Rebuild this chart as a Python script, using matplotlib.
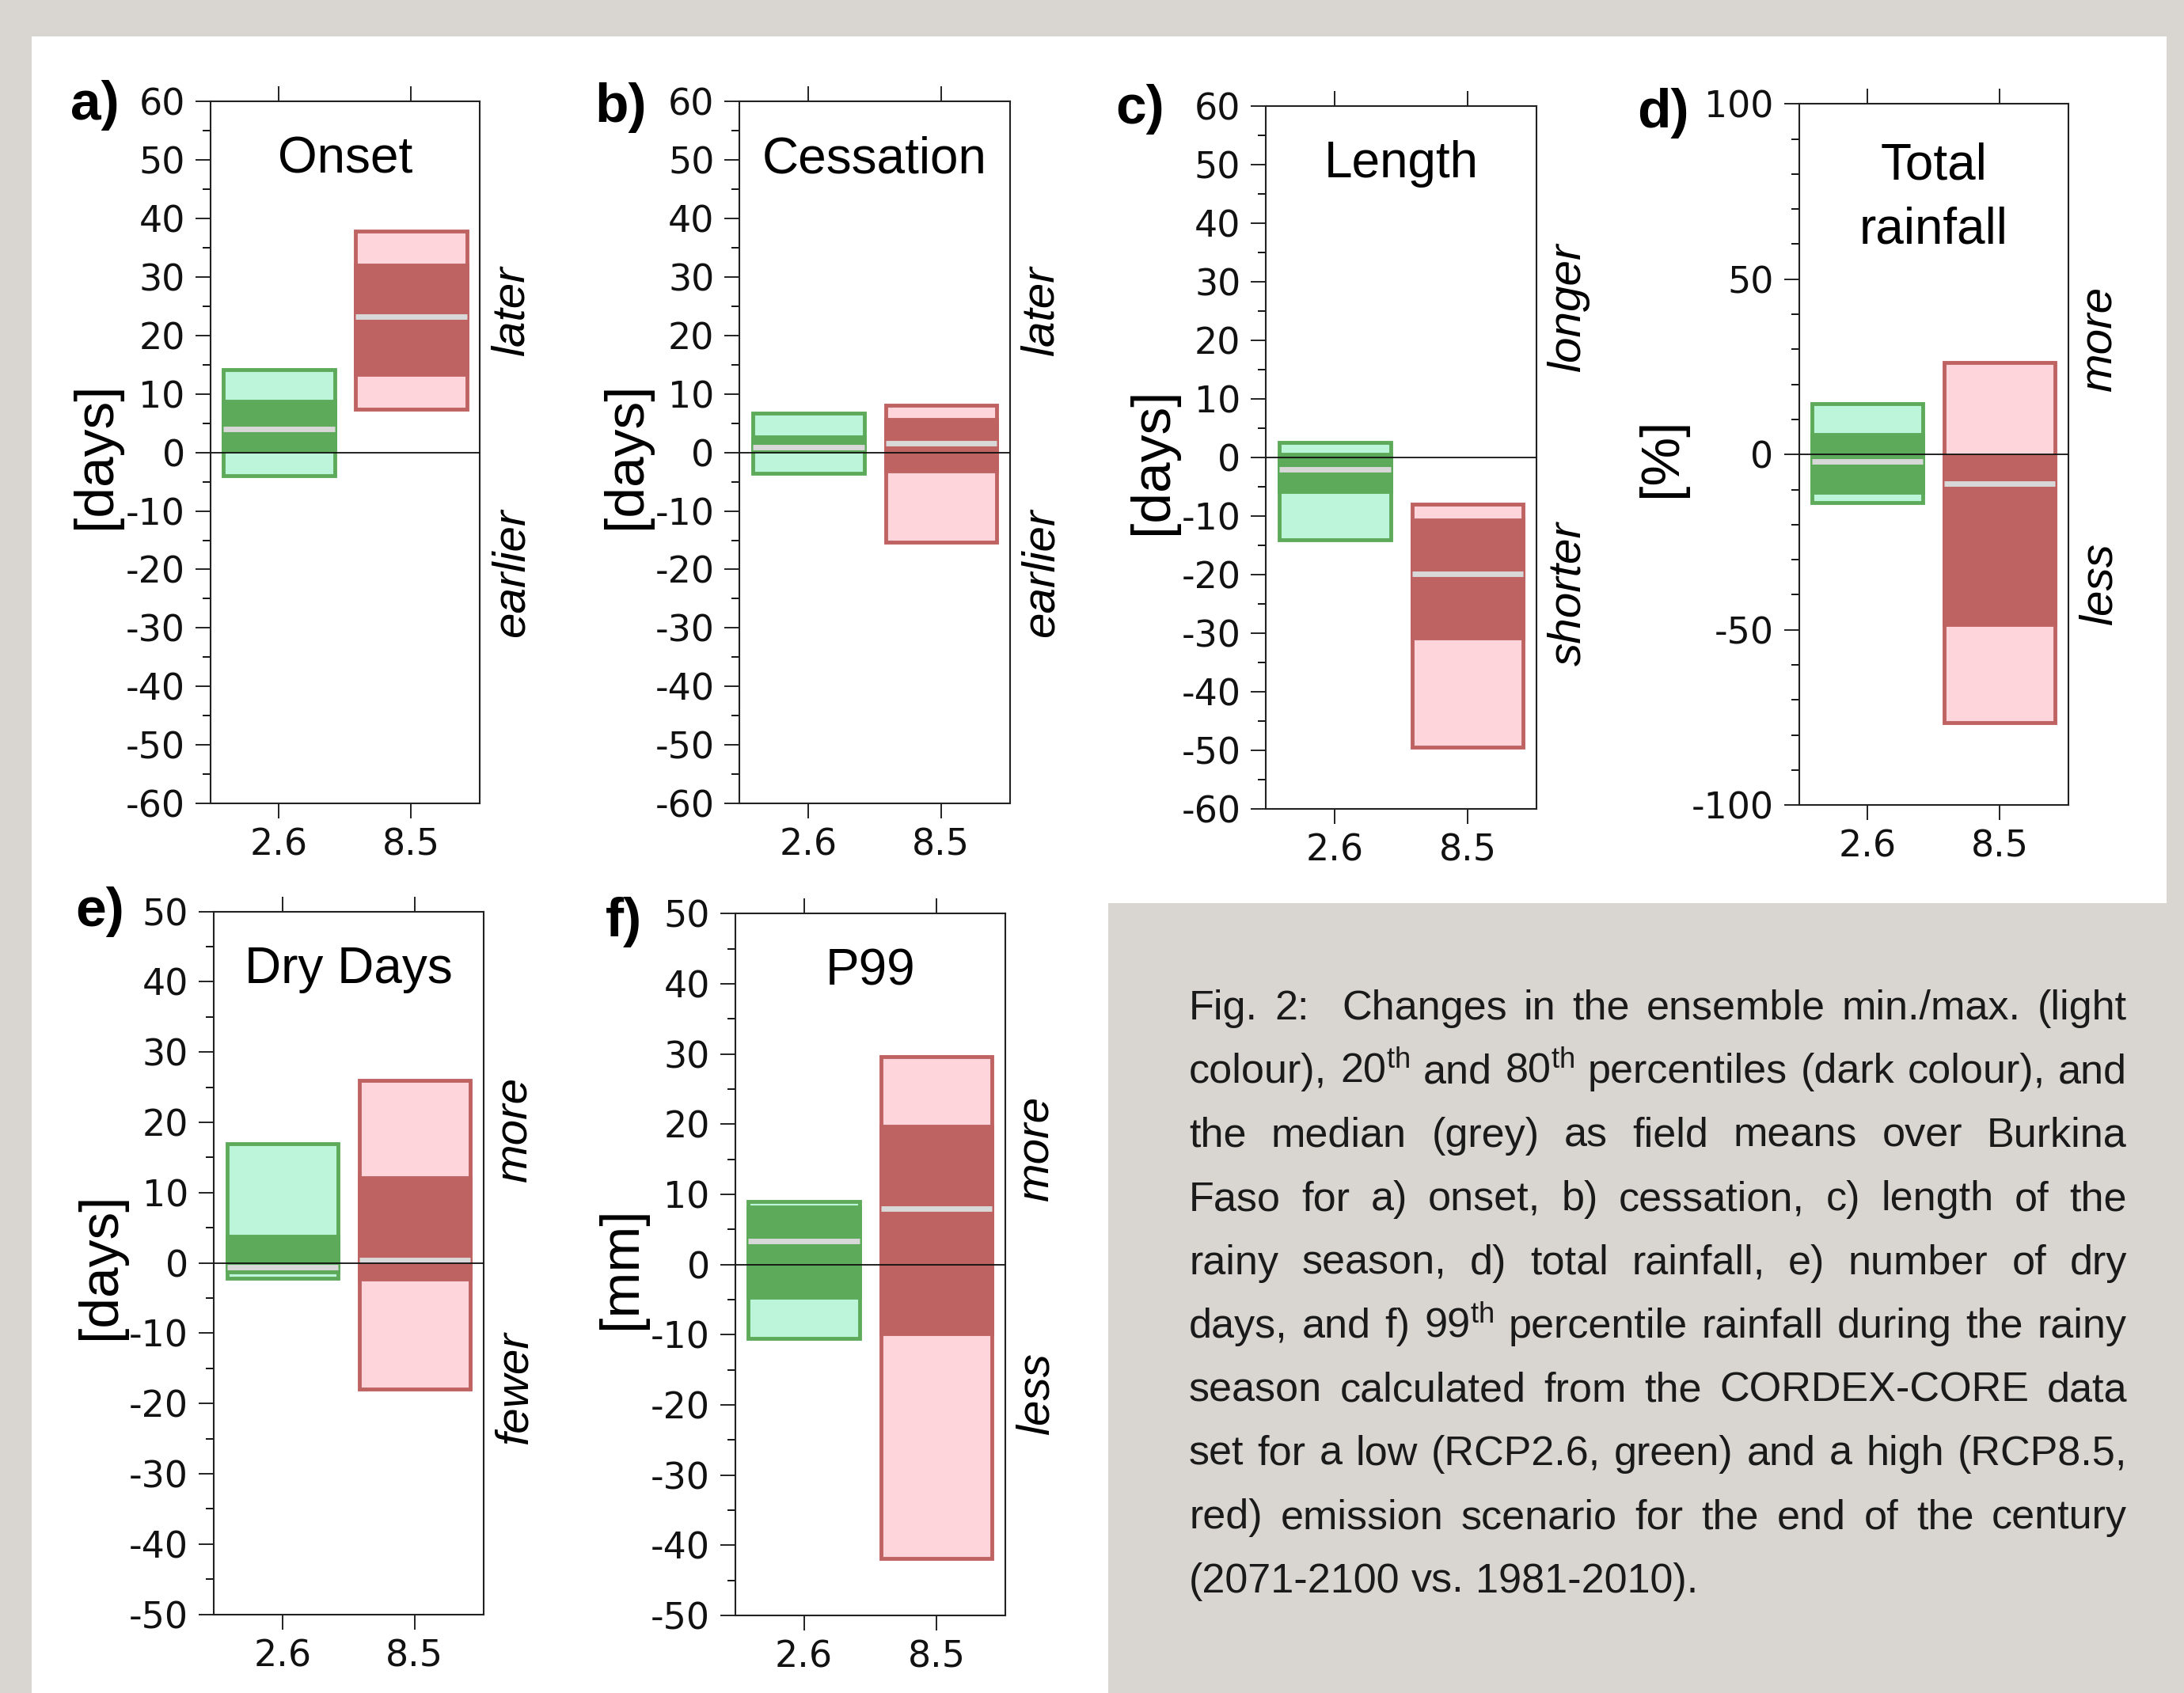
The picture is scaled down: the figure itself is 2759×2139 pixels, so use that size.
import numpy as np
import matplotlib.pyplot as plt
from matplotlib.patches import Rectangle, Polygon
from matplotlib.ticker import MultipleLocator

# no narrow face is installed, so Liberation Sans (Arial metrics) stands in
NARROW = ['Liberation Sans', 'DejaVu Sans']
plt.rcParams['axes.unicode_minus'] = False
plt.rcParams['mathtext.fontset'] = 'custom'
plt.rcParams['mathtext.rm'] = 'Liberation Sans'
plt.rcParams['mathtext.it'] = 'Liberation Sans:italic'
plt.rcParams['mathtext.bf'] = 'Liberation Sans:bold'

# ---- data ----
scenarios = ['2.6', '8.5']
panel_tags = ['a)', 'b)', 'c)', 'd)', 'e)', 'f)']
titles = ['Onset', 'Cessation', 'Length', 'Total\nrainfall', 'Dry Days', 'P99']
units = ['[days]', '[days]', '[days]', '[%]', '[days]', '[mm]']
up_words = ['later', 'later', 'longer', 'more', 'more', 'more']
down_words = ['earlier', 'earlier', 'shorter', 'less', 'fewer', 'less']

# ensemble min / 20th pct / median / 80th pct / max
rcp26_min = [-4.0, -3.5, -14.0, -13.7, -2.2, -10.5]
rcp26_p20 = [0.3, 0.4, -5.8, -10.7, -1.3, -4.7]
rcp26_med = [4.0, 0.9, -2.0, -2.0, -0.6, 3.3]
rcp26_p80 = [8.8, 2.6, 0.5, 5.6, 3.8, 8.2]
rcp26_max = [14.2, 6.7, 2.6, 14.6, 17.0, 9.0]

rcp85_min = [7.4, -15.4, -49.5, -76.5, -17.9, -41.9]
rcp85_p20 = [13.3, -3.1, -30.8, -48.6, -2.3, -9.8]
rcp85_med = [23.2, 1.65, -19.85, -8.4, 0.45, 8.0]
rcp85_p80 = [32.0, 5.7, -10.7, -0.3, 12.1, 19.65]
rcp85_max = [37.9, 8.1, -8.0, 26.3, 26.0, 29.6]

ylims = [(-60, 60), (-60, 60), (-60, 60), (-100, 100), (-50, 50), (-50, 50)]
major_step = [10, 10, 10, 50, 10, 10]
minor_step = [5, 5, 5, 10, 5, 5]

caption = [
    'Fig. 2:  Changes in the ensemble min./max. (light',
    'colour), 20$^{\\mathrm{th}}$ and 80$^{\\mathrm{th}}$ percentiles (dark colour), and',
    'the median (grey) as field means over Burkina',
    'Faso for a) onset, b) cessation, c) length of the',
    'rainy season, d) total rainfall, e) number of dry',
    'days, and f) 99$^{\\mathrm{th}}$ percentile rainfall during the rainy',
    'season calculated from the CORDEX-CORE data',
    'set for a low (RCP2.6, green) and a high (RCP8.5,',
    'red) emission scenario for the end of the century',
    '(2071-2100 vs. 1981-2010).',
]

# ---- layout (pixels of the 2759x2139 picture) ----
W, H = 2759, 2139
ax_box = [(265.6, 128.4, 606.3, 1015), (934.4, 128.4, 1275.9, 1015),
          (1599.2, 134, 1941.2, 1022.1), (2272.5, 131.2, 2613, 1017.2),
          (270, 1151.7, 610.7, 2039.7), (928.6, 1154.3, 1270, 2041)]
tag_pos = [(89, 151), (751, 154), (1409, 156), (2068, 161), (95, 1170), (765, 1183)]
ylab_x = [120.5, 791.5, 1456, 2098.5, 127, 785]
up_y = [0.701, 0.701, 0.713, 0.664, 0.69, 0.665]
down_y = [0.329, 0.329, 0.306, 0.315, 0.322, 0.316]

light = ['#bdf5da', '#fdd5db']
dark = ['#5dab5a', '#bf6262']
grey_med = '#d8d8d8'
bw = 0.84


def fx(px):
    return px / W


def fy(py):
    return 1 - py / H


fig = plt.figure(figsize=(W / 100, H / 100), dpi=100, facecolor='#d9d6d1')
white = Polygon([(fx(40), fy(46)), (fx(2737), fy(46)), (fx(2737), fy(1141)),
                 (fx(1400), fy(1141)), (fx(1400), fy(2139)), (fx(40), fy(2139))],
                closed=True, transform=fig.transFigure, facecolor='white',
                edgecolor='none', zorder=0)
fig.add_artist(white)

for i in range(6):
    l, t, r, b = ax_box[i]
    ax = fig.add_axes([fx(l), fy(b), (r - l) / W, (b - t) / H])
    mins = [rcp26_min[i], rcp85_min[i]]
    p20s = [rcp26_p20[i], rcp85_p20[i]]
    meds = [rcp26_med[i], rcp85_med[i]]
    p80s = [rcp26_p80[i], rcp85_p80[i]]
    maxs = [rcp26_max[i], rcp85_max[i]]
    for k in range(2):
        ax.add_patch(Rectangle((k - bw / 2, mins[k]), bw, maxs[k] - mins[k],
                               facecolor=light[k], edgecolor=dark[k], lw=3.5, zorder=2))
        ax.add_patch(Rectangle((k - bw / 2, p20s[k]), bw, p80s[k] - p20s[k],
                               facecolor=dark[k], edgecolor=dark[k], lw=3.5, zorder=3))
        ax.hlines(meds[k], k - bw / 2, k + bw / 2, color=grey_med, lw=5, zorder=4)
    ax.axhline(0, color='#111111', lw=1.3, zorder=5)

    ax.set_xlim(-0.52, 1.52)
    ax.set_ylim(*ylims[i])
    ax.set_xticks([0, 1])
    ax.set_xticklabels(scenarios)
    ax.yaxis.set_major_locator(MultipleLocator(major_step[i]))
    ax.yaxis.set_minor_locator(MultipleLocator(minor_step[i]))
    ax.tick_params(axis='both', which='major', labelsize=33, length=14, width=1.3,
                   direction='out', colors='#111111')
    ax.tick_params(axis='y', which='major', pad=9)
    ax.tick_params(axis='x', which='major', top=True, pad=8)
    ax.tick_params(axis='y', which='minor', length=7, width=1.3)
    ax.tick_params(axis='x', which='minor', bottom=False)
    for s in ax.spines.values():
        s.set_linewidth(1.5)
        s.set_color('#222222')

    # title inside the axes
    h_px = b - t
    if '\n' in titles[i]:
        first, second = titles[i].split('\n')
        ax.text(0.5, 1 - 95 / h_px, first, transform=ax.transAxes, ha='center',
                va='baseline', fontsize=46, family=NARROW)
        ax.text(0.5, 1 - 176 / h_px, second, transform=ax.transAxes, ha='center',
                va='baseline', fontsize=46, family=NARROW)
    else:
        ax.text(0.5, 1 - 90 / h_px, titles[i], transform=ax.transAxes, ha='center',
                va='baseline', fontsize=46, family=NARROW)

    # unit label
    fig.text(fx(ylab_x[i]), fy((t + b) / 2 + 4), units[i], rotation=90, ha='center',
             va='center', fontsize=50, family=NARROW)
    # direction words on the right
    xr = 1 + 40 / (r - l)
    ax.text(xr, up_y[i], up_words[i], transform=ax.transAxes, rotation=90,
            ha='center', va='center', fontsize=42, style='italic', family=NARROW)
    ax.text(xr, down_y[i], down_words[i], transform=ax.transAxes, rotation=90,
            ha='center', va='center', fontsize=42, style='italic', family=NARROW)

    # panel tag
    fig.text(fx(tag_pos[i][0]), fy(tag_pos[i][1]), panel_tags[i], ha='left',
             va='baseline', fontsize=50, fontweight='bold', family='Liberation Sans')

# ---- justified caption ----
renderer = fig.canvas.get_renderer()
x0, x1 = 1502, 2687
base0, step = 1288, 80.4
cap_kw = dict(fontsize=37.5, family=NARROW, color='#1a1a1a', ha='left', va='baseline')
probe = fig.text(0, 0, 'a a', **cap_kw)
wa_a = probe.get_window_extent(renderer).width
probe.set_text('aa')
space_w = wa_a - probe.get_window_extent(renderer).width
probe.remove()

for li, line in enumerate(caption):
    words, gaps = [], []
    g = 0
    for tok in line.split(' '):
        if tok == '':
            g += 1
            continue
        words.append(tok)
        gaps.append(g if len(words) > 1 else 0)
        g = 1
    y = fy(base0 + li * step)
    arts = [fig.text(0, y, w_, **cap_kw) for w_ in words]
    widths = [a.get_window_extent(renderer).width for a in arts]
    if li < len(caption) - 1:
        sp = (x1 - x0 - sum(widths)) / sum(gaps)
    else:
        sp = space_w
    x = x0
    for a, wd, gp in zip(arts, widths, gaps):
        x += gp * sp
        a.set_x(fx(x))
        x += wd

fig.savefig('out.png', dpi=100, facecolor=fig.get_facecolor())
